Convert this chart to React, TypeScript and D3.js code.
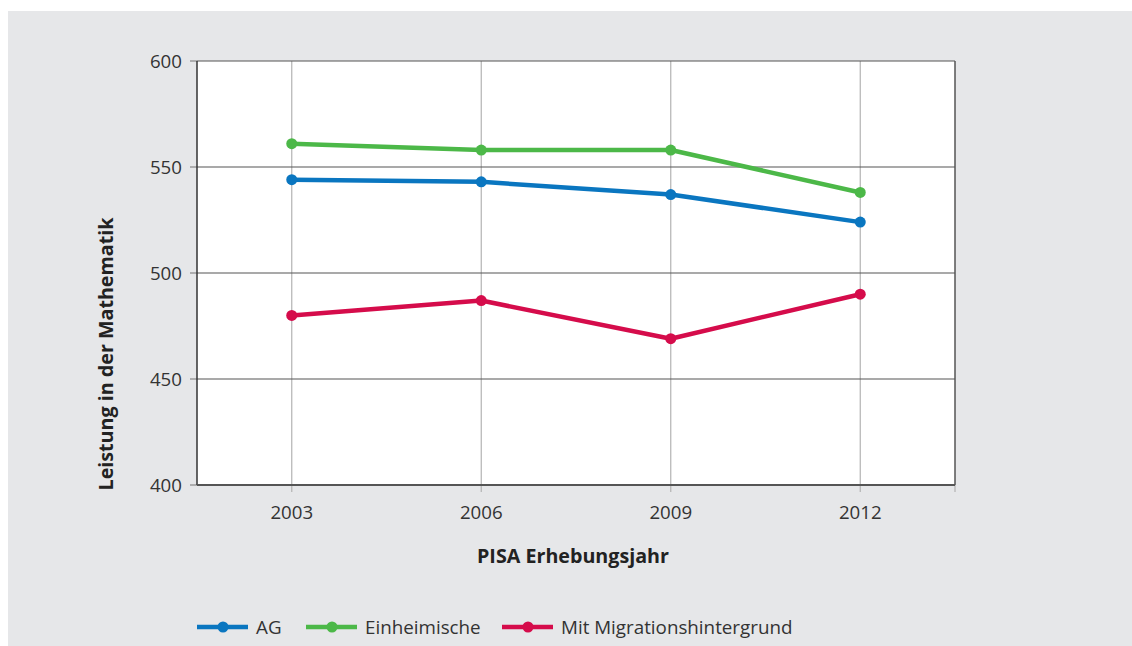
import React, { useEffect, useRef } from 'react';
import * as d3 from 'd3';

const years = ['2003', '2006', '2009', '2012'];
const yTicks = [400, 450, 500, 550, 600];
const agValues = [544, 543, 537, 524];
const einheimischeValues = [561, 558, 558, 538];
const migrationValues = [480, 487, 469, 490];
const seriesNames = ['AG', 'Einheimische', 'Mit Migrationshintergrund'];
const seriesColors = ['#0a76c0', '#4cb848', '#d50c4b'];

const FONT = '"Open Sans", sans-serif';

const App: React.FC = () => {
  const svgRef = useRef<SVGSVGElement>(null);
  const width = 1132;
  const height = 646;

  useEffect(() => {
    if (!svgRef.current) return;
    const svg = d3.select(svgRef.current);
    svg.selectAll('*').remove();

    const left = 197, right = 955, top = 61, bottom = 485;

    svg.append('rect')
      .attr('x', 8).attr('y', 11)
      .attr('width', width - 8).attr('height', height - 11)
      .attr('fill', '#e6e7e9');

    svg.append('rect')
      .attr('x', left).attr('y', top)
      .attr('width', right - left).attr('height', bottom - top)
      .attr('fill', '#fff');

    const x = d3.scalePoint<string>().domain(years).range([left, right]).padding(0.5);
    const y = d3.scaleLinear().domain([400, 600]).range([bottom, top]);

    // vertical grid lines (light) extending as ticks below axis
    svg.append('g')
      .selectAll('line')
      .data(years)
      .enter()
      .append('line')
      .attr('x1', d => x(d)!).attr('x2', d => x(d)!)
      .attr('y1', top).attr('y2', bottom + 7)
      .attr('stroke', '#b3b3b3').attr('stroke-width', 1.2);

    svg.append('line')
      .attr('x1', right).attr('x2', right)
      .attr('y1', bottom).attr('y2', bottom + 7)
      .attr('stroke', '#b3b3b3').attr('stroke-width', 1.2);

    // horizontal grid lines
    svg.append('g')
      .selectAll('line')
      .data(yTicks)
      .enter()
      .append('line')
      .attr('x1', left).attr('x2', right)
      .attr('y1', d => y(d)).attr('y2', d => y(d))
      .attr('stroke', '#555').attr('stroke-width', 1.2);

    // y ticks
    svg.append('g')
      .selectAll('line')
      .data(yTicks)
      .enter()
      .append('line')
      .attr('x1', left - 7).attr('x2', left)
      .attr('y1', d => y(d)).attr('y2', d => y(d))
      .attr('stroke', '#888').attr('stroke-width', 1.2);

    svg.append('g')
      .selectAll('text')
      .data(yTicks)
      .enter()
      .append('text')
      .attr('x', left - 15)
      .attr('y', d => y(d))
      .attr('dy', '0.35em')
      .attr('text-anchor', 'end')
      .style('font-family', FONT)
      .style('font-size', '18.7px')
      .style('fill', '#333')
      .text(d => d);

    // axes frame
    svg.append('line')
      .attr('x1', left).attr('x2', left).attr('y1', top).attr('y2', bottom)
      .attr('stroke', '#333').attr('stroke-width', 1.5);
    svg.append('line')
      .attr('x1', right).attr('x2', right).attr('y1', top).attr('y2', bottom)
      .attr('stroke', '#555').attr('stroke-width', 1.5);
    svg.append('line')
      .attr('x1', left).attr('x2', right).attr('y1', bottom).attr('y2', bottom)
      .attr('stroke', '#555').attr('stroke-width', 2);

    svg.append('g')
      .selectAll('text')
      .data(years)
      .enter()
      .append('text')
      .attr('x', d => x(d)!)
      .attr('y', bottom + 34)
      .attr('text-anchor', 'middle')
      .style('font-family', FONT)
      .style('font-size', '18.7px')
      .style('fill', '#333')
      .text(d => d);

    svg.append('text')
      .attr('x', 573)
      .attr('y', 563)
      .attr('text-anchor', 'middle')
      .style('font-family', FONT)
      .style('font-size', '19.7px')
      .style('font-weight', 'bold')
      .style('fill', '#222')
      .text('PISA Erhebungsjahr');

    svg.append('text')
      .attr('transform', 'translate(113, 354) rotate(-90)')
      .attr('text-anchor', 'middle')
      .style('font-family', FONT)
      .style('font-size', '19.7px')
      .style('font-weight', 'bold')
      .style('fill', '#222')
      .text('Leistung in der Mathematik');

    const allSeries = [agValues, einheimischeValues, migrationValues];
    const line = d3.line<number>()
      .x((_, i) => x(years[i])!)
      .y(d => y(d));

    allSeries.forEach((vals, si) => {
      svg.append('path')
        .datum(vals)
        .attr('d', line)
        .attr('fill', 'none')
        .attr('stroke', seriesColors[si])
        .attr('stroke-width', 4.5)
        .attr('stroke-linejoin', 'round');
      svg.append('g')
        .selectAll('circle')
        .data(vals)
        .enter()
        .append('circle')
        .attr('cx', (_, i) => x(years[i])!)
        .attr('cy', d => y(d))
        .attr('r', 5.5)
        .attr('fill', seriesColors[si]);
    });

    // legend
    const legendX = [197, 306, 502];
    const legendY = 627;
    seriesNames.forEach((name, i) => {
      const lx = legendX[i];
      const g = svg.append('g');
      g.append('line')
        .attr('x1', lx).attr('x2', lx + 51)
        .attr('y1', legendY).attr('y2', legendY)
        .attr('stroke', seriesColors[i]).attr('stroke-width', 4.5);
      g.append('circle')
        .attr('cx', lx + 26).attr('cy', legendY).attr('r', 5.5)
        .attr('fill', seriesColors[i]);
      g.append('text')
        .attr('x', lx + 59)
        .attr('y', legendY)
        .attr('dy', '0.35em')
        .style('font-family', FONT)
        .style('font-size', '18.8px')
        .style('fill', '#333')
        .text(name);
    });
  }, []);

  return (
    <div style={{ position: 'fixed', left: 0, top: 0 }}>
      <svg ref={svgRef} width={width} height={height} style={{ display: 'block' }} />
    </div>
  );
};

export default App;
